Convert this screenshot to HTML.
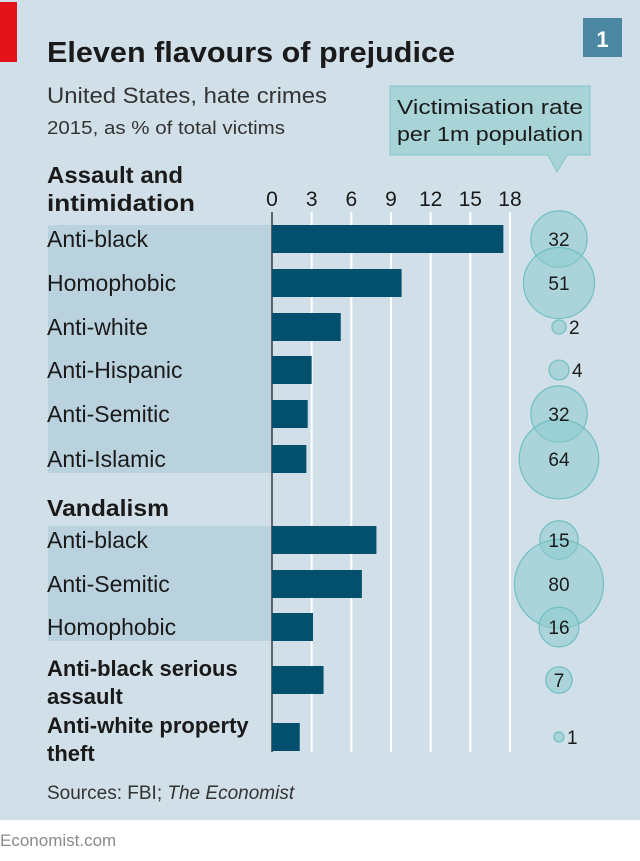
<!DOCTYPE html>
<html><head><meta charset="utf-8"><style>
body{margin:0;background:#fff;}
svg{display:block;font-family:"Liberation Sans Narrow","Liberation Sans",sans-serif;}
</style></head><body>
<svg id="c" width="640" height="861" viewBox="0 0 640 861" xmlns="http://www.w3.org/2000/svg">
<rect x="0" y="0" width="640" height="820" fill="#d1e0e8"/>
<rect x="0" y="2" width="17" height="60" fill="#e3121b"/>
<text x="47" y="62" font-size="29" font-weight="bold" fill="#1a1a1a" textLength="408" lengthAdjust="spacingAndGlyphs">Eleven flavours of prejudice</text>
<rect x="583" y="18" width="39" height="39" fill="#4b87a1"/>
<text x="602.5" y="47" font-size="22" font-weight="bold" fill="#fff" text-anchor="middle">1</text>
<text x="47" y="103" font-size="22" fill="#333" textLength="280" lengthAdjust="spacingAndGlyphs">United States, hate crimes</text>
<text x="47" y="134" font-size="18" fill="#333" textLength="238" lengthAdjust="spacingAndGlyphs">2015, as % of total victims</text>
<g>
<path d="M390,86 H590 V155 H567 L557,172 L548,155 H390 Z" fill="#a9d4d7" stroke="#80c6ca" stroke-width="1"/>
<text x="490" y="114" font-size="20" fill="#1a1a1a" text-anchor="middle" textLength="186" lengthAdjust="spacingAndGlyphs">Victimisation rate</text>
<text x="490" y="141" font-size="20" fill="#1a1a1a" text-anchor="middle" textLength="186" lengthAdjust="spacingAndGlyphs">per 1m population</text>
</g>
<text x="47" y="183" font-size="23" font-weight="bold" fill="#1a1a1a" textLength="136" lengthAdjust="spacingAndGlyphs">Assault and</text>
<text x="47" y="211" font-size="23" font-weight="bold" fill="#1a1a1a" textLength="148" lengthAdjust="spacingAndGlyphs">intimidation</text>
<rect x="48" y="225" width="224" height="248" fill="#bad1de"/>
<text x="47" y="516" font-size="23" font-weight="bold" fill="#1a1a1a" textLength="122" lengthAdjust="spacingAndGlyphs">Vandalism</text>
<rect x="48" y="526" width="224" height="115" fill="#bad1de"/>
<text x="47" y="799" font-size="19" fill="#333">Sources: FBI; <tspan font-style="italic">The Economist</tspan></text>
<text x="0" y="846" font-size="17" fill="#8a8a8a">Economist.com</text>
<g id="grid"></g><g id="bars"></g><g id="labels"></g><g id="bubbles"></g>
</svg>
<script>
const categories=["Anti-black","Homophobic","Anti-white","Anti-Hispanic","Anti-Semitic","Anti-Islamic","Anti-black","Anti-Semitic","Homophobic","Anti-black serious|assault","Anti-white property|theft"];
const shares=[17.5,9.8,5.2,3.0,2.7,2.6,7.9,6.8,3.1,3.9,2.1];
const rates=[32,51,2,4,32,64,15,80,16,7,1];
const ticks=[0,3,6,9,12,15,18];
const rowY=[239,283,327,370,414,459,540,584,627,680,737];
const NS="http://www.w3.org/2000/svg";
const x=v=>272+v*13.22;
const rr=v=>44.5*Math.sqrt(v/80);
function mk(t,a,p){const e=document.createElementNS(NS,t);for(const k in a)e.setAttribute(k,a[k]);document.getElementById(p).appendChild(e);return e;}
ticks.forEach((t,i)=>{
 if(t>0){const l=mk("line",{x1:x(t),x2:x(t),y1:212,y2:752,stroke:"#fff","stroke-width":2},"grid");
 
 }
 const tx=mk("text",{x:x(t),y:206,"font-size":21,fill:"#1a1a1a","text-anchor":"middle"},"grid");tx.textContent=t;
 
 
});
shares.forEach((v,i)=>{
 const b=mk("rect",{x:272,y:rowY[i]-14,width:x(v)-272,height:28,fill:"#02506d"},"bars");
 
 
});
const z=mk("line",{x1:272,x2:272,y1:212,y2:752,stroke:"#3a3a3a","stroke-width":1.5},"grid");


categories.forEach((c,i)=>{
 const parts=c.split("|");const bold=i>=9;
 parts.forEach((p,j)=>{
  const t=mk("text",{x:47,y:(parts.length>1?rowY[i]-4+j*28:rowY[i]+8),"font-size":bold?22:23,"font-weight":bold?"bold":"normal",fill:"#1a1a1a"},"labels");
  t.textContent=p;
  
  
 });
});
rates.forEach((v,i)=>{
 const r=rr(v);
 const c=mk("circle",{cx:559,cy:rowY[i],r:r,fill:"#8ccacd","fill-opacity":0.55,stroke:"#6fbfc3","stroke-width":1.2},"bubbles");
 
 
});
rates.forEach((v,i)=>{
 const r=rr(v);const inside=r>=12;
 const t=mk("text",{x:inside?559:559+r+3,y:rowY[i]+7,"font-size":19,fill:"#1a1a1a","text-anchor":inside?"middle":"start"},"bubbles");
 t.textContent=v;
 
 
});
</script>
</body></html>
